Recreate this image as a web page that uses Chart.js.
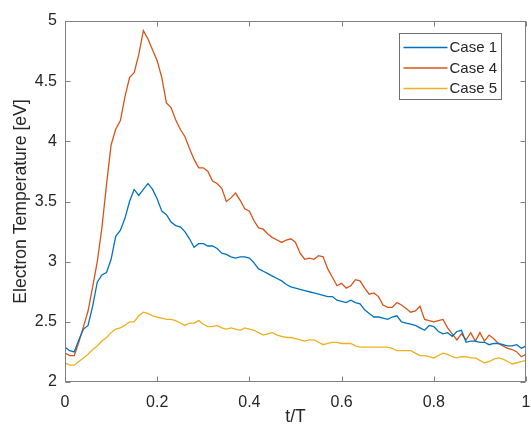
<!DOCTYPE html>
<html>
<head>
<meta charset="utf-8">
<script src="https://cdn.jsdelivr.net/npm/chart.js@4.4.0/dist/chart.umd.min.js"></script>
<style>
  html, body { margin: 0; padding: 0; background: #fff; }
  #wrap { width: 531px; height: 432px; }
</style>
</head>
<body>
<div id="wrap"><canvas id="tempChart" width="531" height="432"></canvas></div>
<script>
// t/T samples
const tValues = [
  0.00, 0.01, 0.02, 0.03, 0.04, 0.05, 0.06, 0.07, 0.08, 0.09,
  0.10, 0.11, 0.12, 0.13, 0.14, 0.15, 0.16, 0.17, 0.18, 0.19,
  0.20, 0.21, 0.22, 0.23, 0.24, 0.25, 0.26, 0.27, 0.28, 0.29,
  0.30, 0.31, 0.32, 0.33, 0.34, 0.35, 0.36, 0.37, 0.38, 0.39,
  0.40, 0.41, 0.42, 0.43, 0.44, 0.45, 0.46, 0.47, 0.48, 0.49,
  0.50, 0.51, 0.52, 0.53, 0.54, 0.55, 0.56, 0.57, 0.58, 0.59,
  0.60, 0.61, 0.62, 0.63, 0.64, 0.65, 0.66, 0.67, 0.68, 0.69,
  0.70, 0.71, 0.72, 0.73, 0.74, 0.75, 0.76, 0.77, 0.78, 0.79,
  0.80, 0.81, 0.82, 0.83, 0.84, 0.85, 0.86, 0.87, 0.88, 0.89,
  0.90, 0.91, 0.92, 0.93, 0.94, 0.95, 0.96, 0.97, 0.98, 0.99,
  1.00
];

// electron temperature [eV]
const case1 = [
  2.29, 2.26, 2.25, 2.35, 2.44, 2.47, 2.63, 2.83, 2.89, 2.91,
  3.02, 3.21, 3.26, 3.36, 3.50, 3.60, 3.55, 3.60, 3.65, 3.60,
  3.52, 3.42, 3.39, 3.33, 3.30, 3.29, 3.25, 3.19, 3.12, 3.15,
  3.15, 3.13, 3.13, 3.11, 3.07, 3.06, 3.04, 3.03, 3.04, 3.04,
  3.03, 2.99, 2.94, 2.92, 2.90, 2.88, 2.86, 2.84, 2.81, 2.79,
  2.78, 2.77, 2.76, 2.75, 2.74, 2.73, 2.72, 2.71, 2.71, 2.68,
  2.67, 2.66, 2.68, 2.66, 2.65, 2.60, 2.57, 2.54, 2.54, 2.53,
  2.52, 2.54, 2.55, 2.50, 2.49, 2.48, 2.47, 2.45, 2.43, 2.47,
  2.46, 2.42, 2.40, 2.41, 2.38, 2.42, 2.43, 2.33, 2.34, 2.34,
  2.33, 2.33, 2.31, 2.32, 2.32, 2.31, 2.30, 2.30, 2.31, 2.28,
  2.30
];
const case4 = [
  2.24, 2.22, 2.22, 2.33, 2.46, 2.59, 2.79, 3.00, 3.28, 3.64,
  3.97, 4.10, 4.17, 4.37, 4.53, 4.57, 4.72, 4.92, 4.85, 4.76,
  4.67, 4.53, 4.32, 4.28, 4.18, 4.10, 4.04, 3.94, 3.85, 3.78,
  3.78, 3.75, 3.67, 3.65, 3.61, 3.50, 3.53, 3.57, 3.51, 3.44,
  3.42, 3.34, 3.28, 3.27, 3.23, 3.20, 3.18, 3.16, 3.18, 3.19,
  3.16, 3.07, 3.02, 3.03, 3.02, 3.05, 3.04, 2.94, 2.87, 2.80,
  2.82, 2.78, 2.80, 2.85, 2.84, 2.78, 2.73, 2.74, 2.71, 2.64,
  2.62, 2.62, 2.66, 2.64, 2.61, 2.58, 2.59, 2.63, 2.52, 2.51,
  2.50, 2.51, 2.52, 2.45, 2.40, 2.35, 2.40, 2.35, 2.41, 2.34,
  2.41, 2.34, 2.39, 2.36, 2.32, 2.30, 2.28, 2.27, 2.25, 2.21,
  2.23
];
const case5 = [
  2.16, 2.14, 2.14, 2.17, 2.20, 2.23, 2.27, 2.30, 2.34, 2.37,
  2.41, 2.44, 2.45, 2.47, 2.50, 2.50, 2.55, 2.58, 2.57, 2.55,
  2.54, 2.53, 2.52, 2.52, 2.51, 2.49, 2.47, 2.49, 2.49, 2.51,
  2.48, 2.46, 2.46, 2.47, 2.45, 2.44, 2.45, 2.44, 2.43, 2.45,
  2.44, 2.43, 2.41, 2.39, 2.40, 2.41, 2.39, 2.38, 2.37, 2.37,
  2.36, 2.35, 2.34, 2.35, 2.35, 2.33, 2.31, 2.32, 2.33, 2.33,
  2.32, 2.32, 2.32, 2.30, 2.29, 2.29, 2.29, 2.29, 2.29, 2.29,
  2.29, 2.28, 2.26, 2.26, 2.26, 2.26, 2.24, 2.22, 2.22, 2.21,
  2.20, 2.22, 2.24, 2.23, 2.21, 2.20, 2.21, 2.21, 2.20, 2.20,
  2.18, 2.16, 2.17, 2.19, 2.20, 2.19, 2.17, 2.15, 2.16, 2.17,
  2.18
];

const seriesNames = ['Case 1', 'Case 4', 'Case 5'];
const xTicks = [0, 0.2, 0.4, 0.6, 0.8, 1];
const yTicks = [2, 2.5, 3, 3.5, 4, 4.5, 5];

const colors = ['#0072BD', '#D95319', '#EDB120'];
const axisColor = '#808080';
const textColor = '#262626';
const fontFamily = '"Liberation Sans", Arial, Helvetica, sans-serif';

const toPoints = arr => arr.map((v, i) => ({ x: tValues[i], y: v }));

// MATLAB style box with inward ticks and legend in the top right corner
const boxAxes = {
  id: 'boxAxes',
  afterDatasetsDraw(chart) {
    const { ctx, chartArea: a, scales: { x, y } } = chart;
    const tickLen = 5;
    const L = Math.round(a.left) + 0.5, R = Math.round(a.right) - 0.5;
    const T = Math.round(a.top) + 0.5, B = Math.round(a.bottom) - 0.5;
    ctx.save();
    ctx.strokeStyle = axisColor;
    ctx.lineWidth = 1;
    ctx.beginPath();
    xTicks.forEach(v => {
      const px = Math.round(x.getPixelForValue(v)) + 0.5;
      ctx.moveTo(px, B); ctx.lineTo(px, B - tickLen);
      ctx.moveTo(px, T); ctx.lineTo(px, T + tickLen);
    });
    yTicks.forEach(v => {
      const py = Math.round(y.getPixelForValue(v)) + 0.5;
      ctx.moveTo(L, py); ctx.lineTo(L + tickLen, py);
      ctx.moveTo(R, py); ctx.lineTo(R - tickLen, py);
    });
    ctx.stroke();
    ctx.strokeRect(L, T, R - L, B - T);

    // legend
    const bx = Math.round(a.right) - 126.5, by = Math.round(a.top) + 12.5;
    const bw = 102, bh = 66;
    ctx.fillStyle = '#fff';
    ctx.fillRect(bx, by, bw, bh);
    ctx.strokeStyle = '#6e6e6e';
    ctx.strokeRect(bx, by, bw, bh);
    ctx.font = '15px ' + fontFamily;
    ctx.textBaseline = 'middle';
    ctx.textAlign = 'left';
    chart.data.datasets.forEach((ds, i) => {
      const ry = by + 14 + i * 20.5;
      ctx.strokeStyle = ds.borderColor;
      ctx.lineWidth = 1.3;
      ctx.beginPath();
      ctx.moveTo(bx + 4, ry); ctx.lineTo(bx + 48, ry);
      ctx.stroke();
      ctx.fillStyle = textColor;
      ctx.fillText(ds.label, bx + 50, ry + 0.5);
    });
    ctx.restore();
  }
};

const ctx = document.getElementById('tempChart').getContext('2d');
new Chart(ctx, {
  type: 'line',
  data: {
    datasets: [case1, case4, case5].map((arr, i) => ({
      label: seriesNames[i],
      data: toPoints(arr),
      borderColor: colors[i],
      backgroundColor: colors[i],
      borderWidth: 1.3,
      pointRadius: 0,
      tension: 0,
      fill: false,
    })),
  },
  options: {
    responsive: false,
    animation: false,
    events: [],
    layout: { padding: { left: 0, right: 5, top: 21, bottom: 0 } },
    scales: {
      x: {
        type: 'linear',
        min: 0,
        max: 1,
        afterBuildTicks: scale => { scale.ticks = xTicks.map(v => ({ value: v })); },
        afterFit: scale => {
          scale.height = 50;
          scale.paddingLeft = 0;
          scale.paddingRight = 0;
        },
        grid: { display: false, drawTicks: false },
        border: { display: false },
        ticks: {
          padding: 11,
          color: textColor,
          font: { size: 16, family: fontFamily },
          maxRotation: 0,
          callback: v => String(v),
        },
        title: {
          display: true,
          text: 't/T',
          color: textColor,
          font: { size: 17.6, family: fontFamily },
          padding: { top: 0, bottom: 4 },
        },
      },
      y: {
        type: 'linear',
        min: 2,
        max: 5,
        afterBuildTicks: scale => { scale.ticks = yTicks.map(v => ({ value: v })); },
        afterFit: scale => {
          scale.width = 65;
          scale.paddingTop = 0;
          scale.paddingBottom = 0;
        },
        grid: { display: false, drawTicks: false },
        border: { display: false },
        ticks: {
          padding: 8,
          color: textColor,
          font: { size: 16, family: fontFamily },
          callback: v => String(v),
        },
        title: {
          display: true,
          text: 'Electron Temperature [eV]',
          color: textColor,
          font: { size: 17.6, family: fontFamily },
          padding: { top: 11, bottom: 0 },
        },
      },
    },
    plugins: {
      legend: { display: false },
      tooltip: { enabled: false },
    },
  },
  plugins: [boxAxes],
});
</script>
</body>
</html>
